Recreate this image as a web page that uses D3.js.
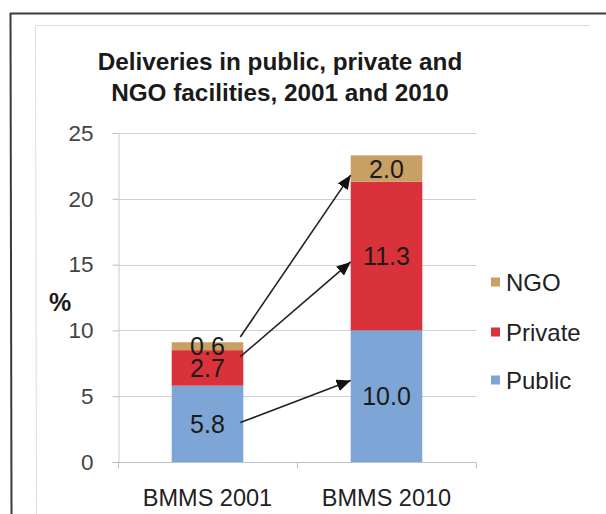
<!DOCTYPE html>
<html>
<head>
<meta charset="utf-8">
<script src="https://cdn.jsdelivr.net/npm/d3@7"></script>
<style>
  html, body { margin: 0; padding: 0; background: #fff; }
  svg { display: block; font-family: Arial, "Liberation Sans", sans-serif; }
</style>
</head>
<body>
<svg id="chart" width="606" height="514"></svg>
<script>
// Survey rounds and share of deliveries (%) by facility type
const categories = ["BMMS 2001", "BMMS 2010"];
const seriesNames = ["Public", "Private", "NGO"];
const publicValues = [5.8, 10.0];
const privateValues = [2.7, 11.3];
const ngoValues = [0.6, 2.0];
const seriesColors = ["#7da6d6", "#d9323b", "#c9a064"];
const yTicks = [0, 5, 10, 15, 20, 25];
const titleLines = ["Deliveries in public, private and", "NGO facilities, 2001 and 2010"];

// Change arrows: level (%) on the 2001 bar -> level (%) on the 2010 bar
const arrowFrom = [3.0, 8.0, 9.5];
const arrowTo = [6.2, 15.2, 21.8];

const svg = d3.select("#chart");

// frame lines
svg.append("line").attr("x1", 10).attr("x2", 606).attr("y1", 13.5).attr("y2", 13.5)
  .attr("stroke", "#3a3a3a").attr("stroke-width", 2);
svg.append("line").attr("x1", 10.5).attr("x2", 11.5).attr("y1", 13).attr("y2", 514)
  .attr("stroke", "#3a3a3a").attr("stroke-width", 2);
svg.append("line").attr("x1", 35).attr("x2", 590).attr("y1", 25.5).attr("y2", 25.5)
  .attr("stroke", "#d6dfe8").attr("stroke-width", 1);
svg.append("line").attr("x1", 35.5).attr("x2", 36.5).attr("y1", 25).attr("y2", 514)
  .attr("stroke", "#d6dfe8").attr("stroke-width", 1);

// title
svg.append("text")
  .attr("x", 280).attr("y", 70)
  .attr("text-anchor", "middle")
  .attr("font-size", 24.3).attr("font-weight", "bold").attr("fill", "#1a1a1a")
  .selectAll("tspan").data(titleLines).join("tspan")
  .attr("x", 280).attr("dy", (d, i) => i === 0 ? 0 : 31)
  .text(d => d);

const x = d3.scaleBand().domain(categories).range([118, 476])
  .paddingInner(0.6).paddingOuter(0.3);
const y = d3.scaleLinear().domain([0, 25]).range([462, 133]);

// gridlines
svg.append("g").selectAll("line").data(yTicks.filter(t => t > 0)).join("line")
  .attr("x1", 118).attr("x2", 476)
  .attr("y1", d => Math.round(y(d)) + 0.5).attr("y2", d => Math.round(y(d)) + 0.5)
  .attr("stroke", "#c9d1d9").attr("stroke-width", 1);

// y axis
const yAxis = svg.append("g").attr("transform", "translate(118.5,0)")
  .call(d3.axisLeft(y).tickValues(yTicks).tickSize(6).tickPadding(19));
yAxis.select(".domain").attr("stroke", "#c6ced6");
yAxis.selectAll(".tick line").attr("stroke", "#b9c1c9");
yAxis.selectAll(".tick text").attr("font-size", 22.5).attr("fill", "#444")
  .attr("font-family", "Arial, 'Liberation Sans', sans-serif");

// x axis with ticks between categories
const xAxisG = svg.append("g").attr("transform", "translate(0,462.5)");
xAxisG.append("line").attr("x1", 118).attr("x2", 476).attr("y1", 0).attr("y2", 0)
  .attr("stroke", "#b9c1c9");
const bounds = [118, (x(categories[0]) + x.bandwidth() + x(categories[1])) / 2, 476];
xAxisG.selectAll("line.tk").data(bounds).join("line").attr("class", "tk")
  .attr("x1", d => Math.round(d) + 0.5).attr("x2", d => Math.round(d) + 0.5)
  .attr("y1", 0).attr("y2", 6).attr("stroke", "#b9c1c9");
xAxisG.selectAll("text").data(categories).join("text")
  .attr("x", d => x(d) + x.bandwidth() / 2).attr("y", 43)
  .attr("text-anchor", "middle").attr("font-size", 23.5).attr("fill", "#222")
  .text(d => d);

// "%" axis label
svg.append("text").attr("x", 60).attr("y", 302).attr("dy", "0.35em")
  .attr("text-anchor", "middle").attr("font-size", 25).attr("font-weight", "bold")
  .attr("fill", "#1a1a1a").text("%");

// stacked bars
const rows = categories.map((c, i) => ({
  category: c, Public: publicValues[i], Private: privateValues[i], NGO: ngoValues[i]
}));
const stacked = d3.stack().keys(seriesNames)(rows);

const layers = svg.append("g").selectAll("g").data(stacked).join("g")
  .attr("fill", (d, i) => seriesColors[i]);
layers.selectAll("rect").data(d => d).join("rect")
  .attr("x", d => x(d.data.category))
  .attr("width", x.bandwidth())
  .attr("y", d => y(d[1]))
  .attr("height", d => y(d[0]) - y(d[1]));

// value labels, centred in each segment
const labelG = svg.append("g");
stacked.forEach(layer => {
  labelG.selectAll(null).data(layer).join("text")
    .attr("x", d => x(d.data.category) + x.bandwidth() / 2)
    .attr("y", d => y((d[0] + d[1]) / 2))
    .attr("dy", "0.36em")
    .attr("text-anchor", "middle").attr("font-size", 25).attr("fill", "#1a1a1a")
    .text(d => d3.format(".1f")(d.data[layer.key]));
});

// arrows between the two rounds
svg.append("defs").append("marker")
  .attr("id", "head").attr("markerUnits", "userSpaceOnUse")
  .attr("viewBox", "0 0 14 12").attr("refX", 14).attr("refY", 6)
  .attr("markerWidth", 14).attr("markerHeight", 12).attr("orient", "auto")
  .append("path").attr("d", "M0,0 L14,6 L0,12 Z").attr("fill", "#111");

const x0 = x(categories[0]) + x.bandwidth() - 3;
const x1 = x(categories[1]);
svg.append("g").selectAll("line").data(arrowFrom).join("line")
  .attr("x1", x0).attr("y1", d => y(d))
  .attr("x2", x1).attr("y2", (d, i) => y(arrowTo[i]))
  .attr("stroke", "#222").attr("stroke-width", 1.6)
  .attr("marker-end", "url(#head)");

// legend
const legendOrder = ["NGO", "Private", "Public"];
const legendY = [282, 332, 380];
const legend = svg.append("g").selectAll("g").data(legendOrder).join("g")
  .attr("transform", (d, i) => `translate(491,${legendY[i]})`);
legend.append("rect").attr("x", 0).attr("y", -4.5).attr("width", 9).attr("height", 9)
  .attr("fill", d => seriesColors[seriesNames.indexOf(d)]);
legend.append("text").attr("x", 15).attr("dy", "0.36em")
  .attr("font-size", 24).attr("fill", "#222").text(d => d);
</script>
</body>
</html>
